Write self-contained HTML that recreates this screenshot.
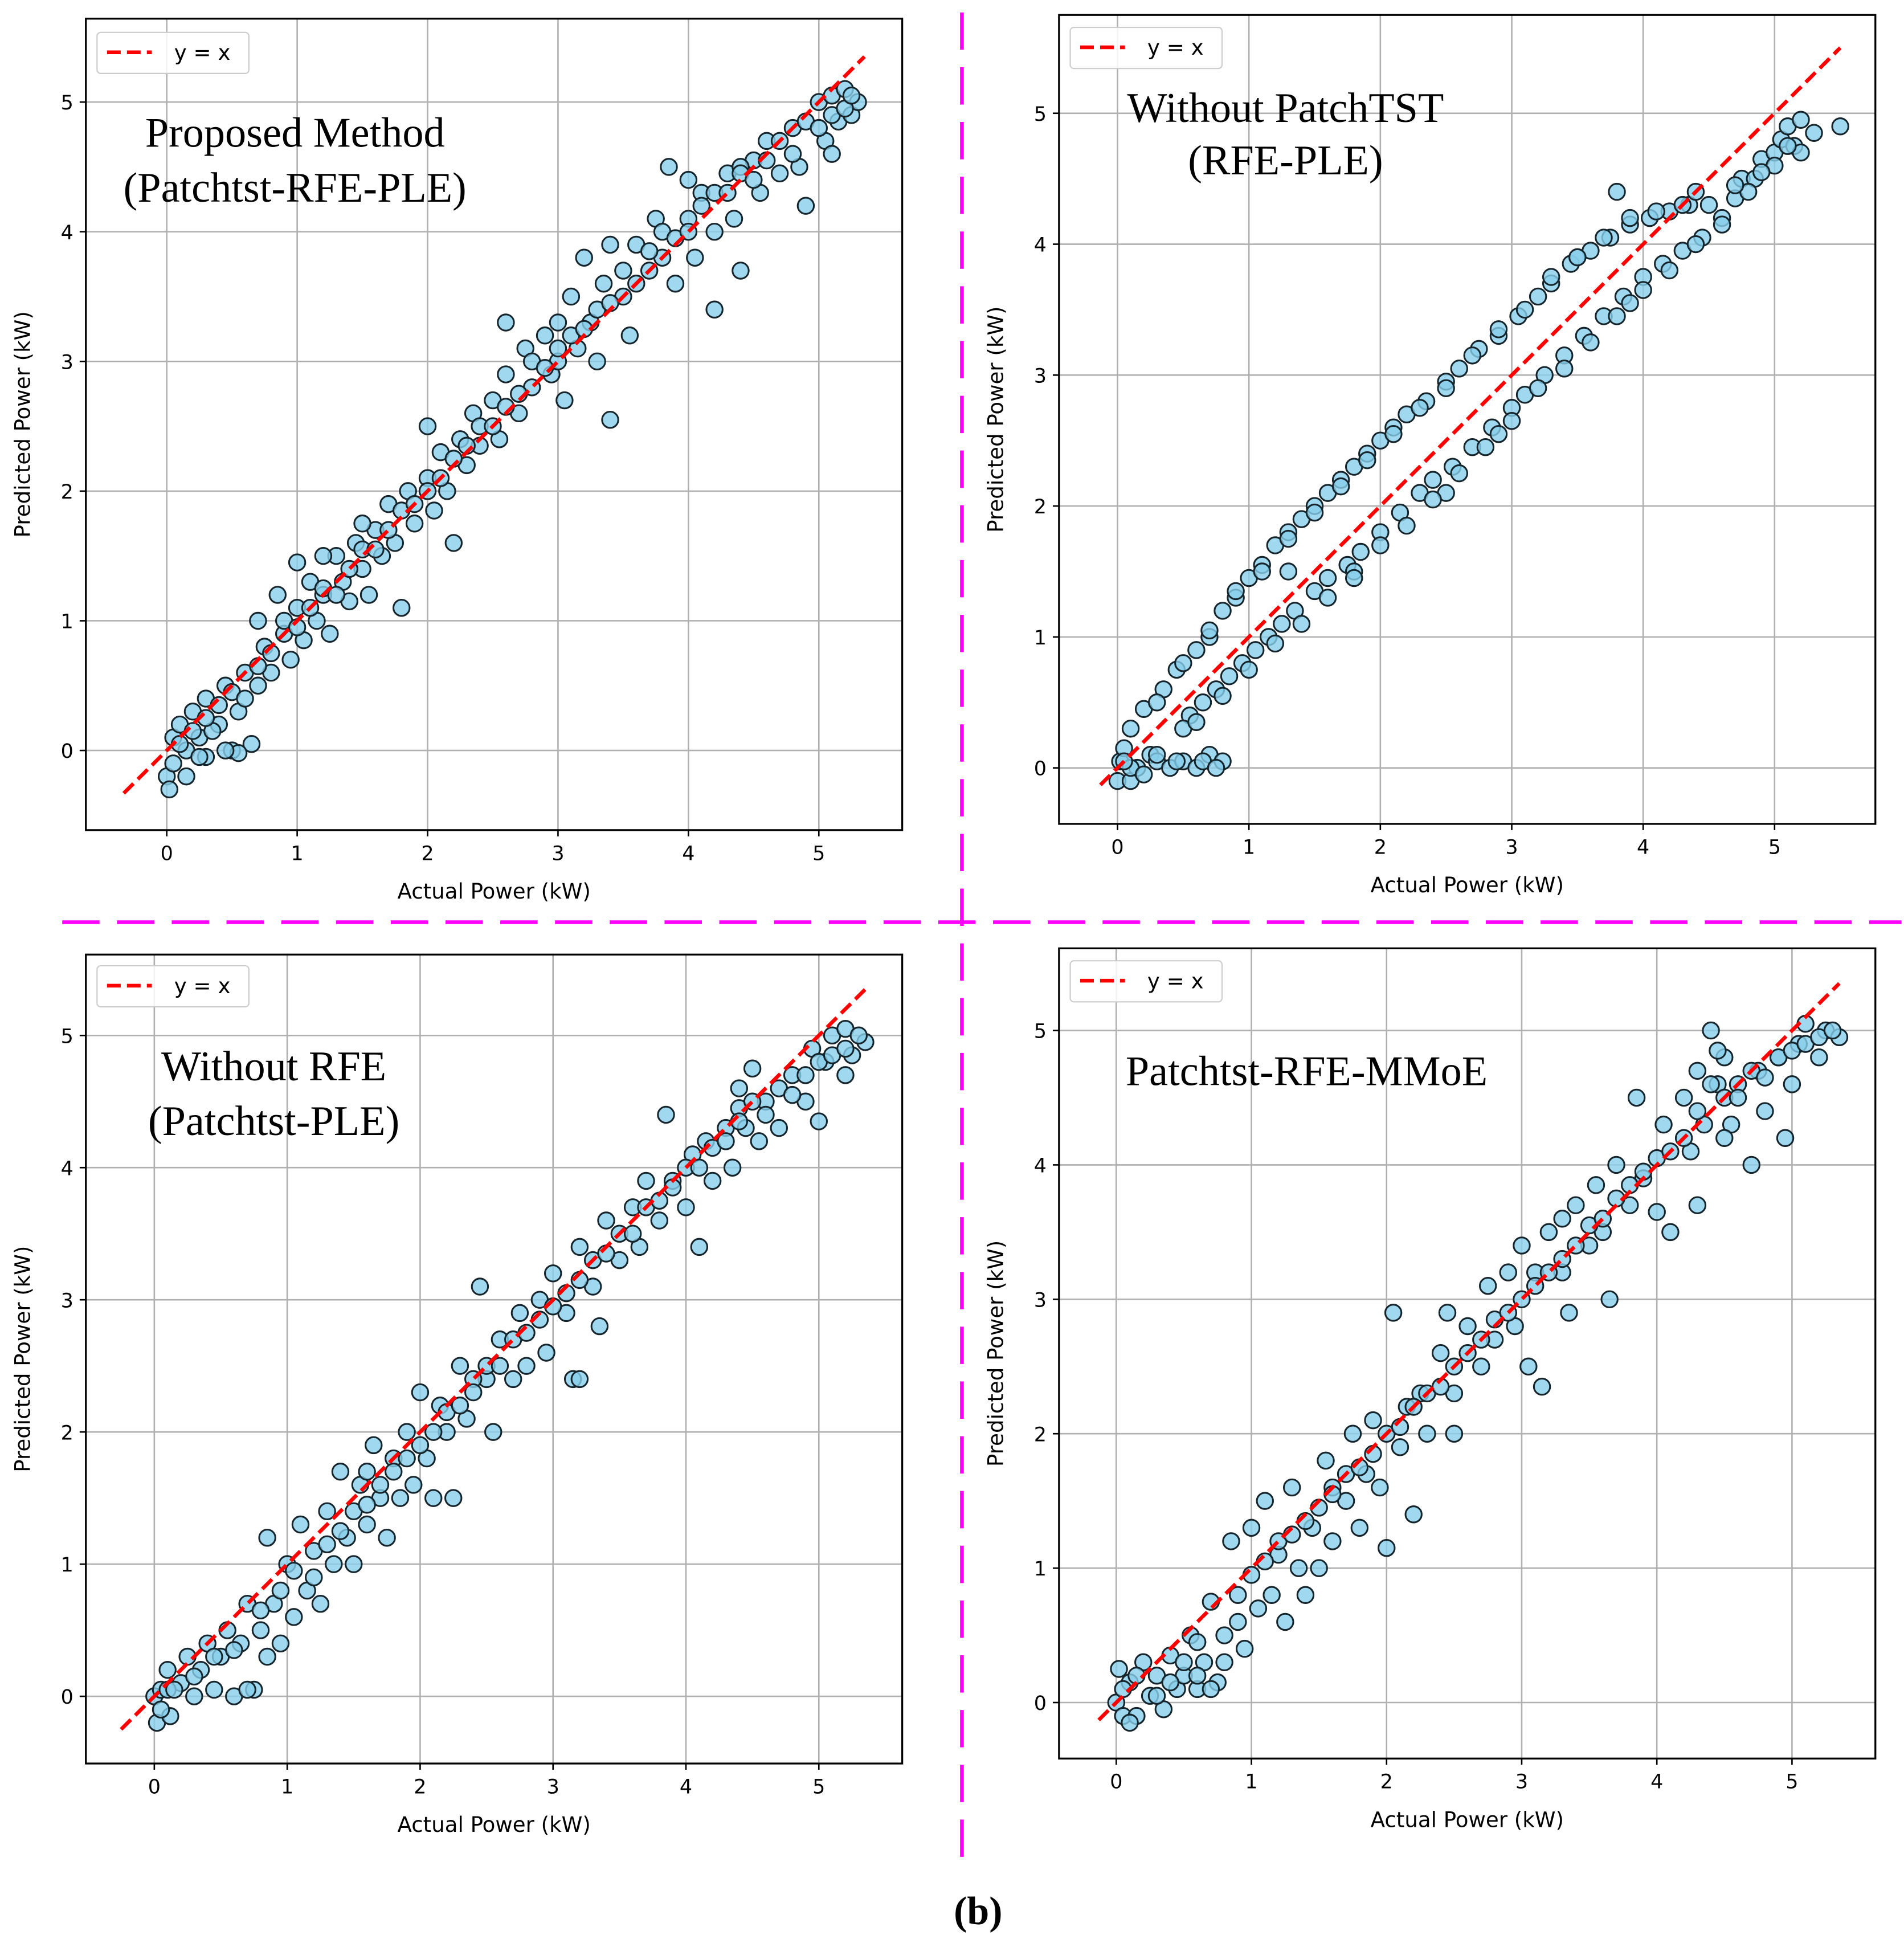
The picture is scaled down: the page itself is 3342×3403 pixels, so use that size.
<!DOCTYPE html>
<html><head><meta charset="utf-8"><style>
html,body{margin:0;padding:0;background:#fff;}
svg{display:block;}
text{font-family:"DejaVu Sans","Liberation Sans",sans-serif;}
.serif{font-family:"Liberation Serif",serif;}
</style></head><body>
<svg id="fig" width="3342" height="3403" viewBox="0 0 1530 1558" preserveAspectRatio="none" xmlns="http://www.w3.org/2000/svg">
<rect width="1530" height="1558" fill="#fff"/>
<line x1="773" y1="10" x2="773" y2="1492" stroke="#ff00ff" stroke-width="3" stroke-dasharray="30,14"/>
<line x1="50" y1="741" x2="1528" y2="741" stroke="#ff00ff" stroke-width="3" stroke-dasharray="30,14"/>
<text class="serif" x="786" y="1546" font-size="32" font-weight="bold" text-anchor="middle">(b)</text>
</svg>
<script>
const xTickLabels=[0,1,2,3,4,5];
const yTickLabels=[0,1,2,3,4,5];
const p1Points=[[0,-0.2],[0.02,-0.3],[0.05,0.1],[0.1,0.2],[0.15,0],[0.2,0.3],[0.25,0.1],[0.3,0.4],[0.3,-0.05],[0.4,0.2],[0.45,0.5],[0.5,0],[0.55,0.3],[0.6,0.6],[0.65,0.05],[0.7,0.5],[0.75,0.8],[0.8,0.6],[0.85,1.2],[0.9,0.9],[0.95,0.7],[1.0,1.1],[1.05,0.85],[1.1,1.3],[1.15,1.0],[1.2,1.2],[1.25,0.9],[1.3,1.5],[1.35,1.3],[1.4,1.15],[1.45,1.6],[1.5,1.4],[1.55,1.2],[1.6,1.7],[1.65,1.5],[1.7,1.9],[1.75,1.6],[1.8,1.1],[1.85,2.0],[1.9,1.75],[2.0,2.1],[2.05,1.85],[2.1,2.3],[2.15,2.0],[2.2,1.6],[2.25,2.4],[2.3,2.2],[2.35,2.6],[2.4,2.35],[2.5,2.7],[2.55,2.4],[2.6,2.9],[2.7,2.6],[2.75,3.1],[2.8,2.8],[2.9,3.2],[2.95,2.9],[3.0,3.3],[3.05,2.7],[3.1,3.5],[3.15,3.1],[3.2,3.8],[3.25,3.3],[3.3,3.0],[3.35,3.6],[3.4,3.9],[3.5,3.5],[3.55,3.2],[3.6,3.9],[3.7,3.7],[3.75,4.1],[3.8,3.8],[3.85,4.5],[3.9,3.6],[4.0,4.1],[4.05,3.8],[4.1,4.3],[4.2,4.0],[4.3,4.45],[4.35,4.1],[4.4,3.7],[4.5,4.55],[4.55,4.3],[4.6,4.7],[4.7,4.45],[4.8,4.8],[4.85,4.5],[4.9,4.2],[5.0,5.0],[5.05,4.7],[5.1,5.05],[5.15,4.85],[5.2,5.1],[5.25,4.9],[5.3,5.0],[2.6,3.3],[1.0,1.45],[3.4,2.55],[4.2,3.4],[0.35,0.15],[0.55,-0.02],[1.2,1.5],[2.0,2.5],[3.0,3.0],[4.0,4.4],[4.4,4.5],[5.1,4.6],[0.7,1.0],[1.5,1.75]];
const p1Extra=[[0.05,-0.1],[0.1,0.05],[0.2,0.15],[0.3,0.25],[0.4,0.35],[0.5,0.45],[0.6,0.4],[0.7,0.65],[0.8,0.75],[0.9,1.0],[1.0,0.95],[1.1,1.1],[1.2,1.25],[1.3,1.2],[1.4,1.4],[1.5,1.55],[1.6,1.55],[1.7,1.7],[1.8,1.85],[1.9,1.9],[2.0,2.0],[2.1,2.1],[2.2,2.25],[2.3,2.35],[2.4,2.5],[2.5,2.5],[2.6,2.65],[2.7,2.75],[2.8,3.0],[2.9,2.95],[3.0,3.1],[3.1,3.2],[3.2,3.25],[3.3,3.4],[3.4,3.45],[3.5,3.7],[3.6,3.6],[3.7,3.85],[3.8,4.0],[3.9,3.95],[4.0,4.0],[4.1,4.2],[4.2,4.3],[4.3,4.3],[4.4,4.45],[4.5,4.4],[4.6,4.55],[4.7,4.7],[4.8,4.6],[4.9,4.85],[5.0,4.8],[5.1,4.9],[5.2,4.95],[5.25,5.05],[0.15,-0.2],[0.45,0.0],[0.25,-0.05]];
const p2Points=[[0,-0.1],[0.02,0.05],[0.05,0.15],[0.1,0.3],[0.1,-0.1],[0.15,0.0],[0.2,0.45],[0.25,0.1],[0.3,0.05],[0.35,0.6],[0.4,0.0],[0.45,0.75],[0.5,0.05],[0.55,0.4],[0.6,0.9],[0.6,0.0],[0.65,0.5],[0.7,1.0],[0.7,0.1],[0.75,0.6],[0.8,1.2],[0.85,0.7],[0.9,1.3],[0.95,0.8],[1.0,1.45],[1.05,0.9],[1.1,1.55],[1.15,1.0],[1.2,1.7],[1.25,1.1],[1.3,1.8],[1.35,1.2],[1.4,1.9],[1.5,1.35],[1.5,2.0],[1.6,2.1],[1.6,1.45],[1.7,2.2],[1.75,1.55],[1.8,2.3],[1.85,1.65],[1.9,2.4],[2.0,1.8],[2.0,2.5],[2.1,2.6],[2.15,1.95],[2.2,2.7],[2.3,2.1],[2.35,2.8],[2.4,2.2],[2.5,2.95],[2.55,2.3],[2.6,3.05],[2.7,2.45],[2.75,3.2],[2.85,2.6],[2.9,3.3],[3.0,2.75],[3.05,3.45],[3.1,2.85],[3.2,3.6],[3.25,3.0],[3.3,3.7],[3.4,3.15],[3.45,3.85],[3.55,3.3],[3.6,3.95],[3.7,3.45],[3.75,4.05],[3.8,4.4],[3.85,3.6],[3.9,4.15],[4.0,3.75],[4.05,4.2],[4.15,3.85],[4.2,4.25],[4.3,3.95],[4.35,4.3],[4.45,4.05],[4.5,4.3],[4.6,4.2],[4.7,4.35],[4.75,4.5],[4.85,4.5],[4.9,4.65],[5.0,4.7],[5.05,4.8],[5.1,4.9],[5.15,4.75],[5.2,4.95],[5.3,4.85],[5.5,4.9],[3.9,3.55],[2.9,2.55],[1.8,1.5],[0.8,0.05],[0.5,0.3],[4.4,4.4],[3.5,3.9],[2.5,2.1],[1.3,1.5],[5.2,4.7]];
const p2Extra=[[0.3,0.5],[0.5,0.8],[0.7,1.05],[0.9,1.35],[1.1,1.5],[1.3,1.75],[1.5,1.95],[1.7,2.15],[1.9,2.35],[2.1,2.55],[2.3,2.75],[2.5,2.9],[2.7,3.15],[2.9,3.35],[3.1,3.5],[3.3,3.75],[3.5,3.9],[3.7,4.05],[3.9,4.2],[4.1,4.25],[4.3,4.3],[0.6,0.35],[0.8,0.55],[1.0,0.75],[1.2,0.95],[1.4,1.1],[1.6,1.3],[1.8,1.45],[2.0,1.7],[2.2,1.85],[2.4,2.05],[2.6,2.25],[2.8,2.45],[3.0,2.65],[3.2,2.9],[3.4,3.05],[3.6,3.25],[3.8,3.45],[4.0,3.65],[4.2,3.8],[4.4,4.0],[4.6,4.15],[4.8,4.4],[5.0,4.6],[5.1,4.75],[4.9,4.55],[4.7,4.45],[0.1,0.0],[0.2,-0.05],[0.3,0.1],[0.45,0.05],[0.65,0.05],[0.75,0.0],[0.05,0.05]];
const p3Points=[[0,0.0],[0.02,-0.2],[0.05,0.05],[0.1,0.2],[0.12,-0.15],[0.2,0.1],[0.25,0.3],[0.3,0.0],[0.35,0.2],[0.4,0.4],[0.45,0.05],[0.5,0.3],[0.55,0.5],[0.6,0.0],[0.65,0.4],[0.7,0.7],[0.75,0.05],[0.8,0.5],[0.85,1.2],[0.9,0.7],[0.95,0.4],[1.0,1.0],[1.05,0.6],[1.1,1.3],[1.15,0.8],[1.2,1.1],[1.25,0.7],[1.3,1.4],[1.35,1.0],[1.4,1.7],[1.45,1.2],[1.5,1.0],[1.55,1.6],[1.6,1.3],[1.65,1.9],[1.7,1.5],[1.75,1.2],[1.8,1.8],[1.85,1.5],[1.9,2.0],[1.95,1.6],[2.0,2.3],[2.05,1.8],[2.1,1.5],[2.15,2.2],[2.2,2.0],[2.25,1.5],[2.3,2.5],[2.35,2.1],[2.45,3.1],[2.5,2.4],[2.55,2.0],[2.6,2.7],[2.7,2.4],[2.75,2.9],[2.8,2.5],[2.9,3.0],[2.95,2.6],[3.0,3.2],[3.1,2.9],[3.15,2.4],[3.2,3.4],[3.3,3.1],[3.35,2.8],[3.4,3.6],[3.5,3.3],[3.6,3.7],[3.65,3.4],[3.7,3.9],[3.8,3.6],[3.85,4.4],[3.9,3.9],[4.0,3.7],[4.05,4.1],[4.1,3.4],[4.15,4.2],[4.2,3.9],[4.3,4.3],[4.35,4.0],[4.4,4.6],[4.45,4.3],[4.5,4.75],[4.55,4.2],[4.6,4.5],[4.7,4.3],[4.8,4.7],[4.9,4.5],[4.95,4.9],[5.0,4.35],[5.05,4.8],[5.1,5.0],[5.2,5.05],[5.25,4.85],[5.35,4.95],[3.2,2.4],[1.6,1.7],[2.4,2.4],[0.85,0.3],[0.1,0.05],[4.4,4.45],[5.2,4.7]];
const p3Extra=[[0.05,-0.1],[0.15,0.05],[0.3,0.15],[0.45,0.3],[0.6,0.35],[0.7,0.05],[0.8,0.65],[0.95,0.8],[1.05,0.95],[1.2,0.9],[1.3,1.15],[1.4,1.25],[1.5,1.4],[1.6,1.45],[1.7,1.6],[1.8,1.7],[1.9,1.8],[2.0,1.9],[2.1,2.0],[2.2,2.15],[2.3,2.2],[2.4,2.3],[2.5,2.5],[2.6,2.5],[2.7,2.7],[2.8,2.75],[2.9,2.85],[3.0,2.95],[3.1,3.05],[3.2,3.15],[3.3,3.3],[3.4,3.35],[3.5,3.5],[3.6,3.5],[3.7,3.7],[3.8,3.75],[3.9,3.85],[4.0,4.0],[4.1,4.0],[4.2,4.15],[4.3,4.2],[4.4,4.35],[4.5,4.5],[4.6,4.4],[4.7,4.6],[4.8,4.55],[4.9,4.7],[5.0,4.8],[5.1,4.85],[5.2,4.9],[5.3,5.0]];
const p4Points=[[0,0.0],[0.02,0.25],[0.05,-0.1],[0.1,0.15],[0.15,-0.1],[0.2,0.3],[0.25,0.05],[0.3,0.2],[0.35,-0.05],[0.4,0.35],[0.45,0.1],[0.5,0.2],[0.55,0.5],[0.6,0.1],[0.65,0.3],[0.7,0.75],[0.75,0.15],[0.8,0.5],[0.85,1.2],[0.9,0.6],[0.95,0.4],[1.0,1.3],[1.05,0.7],[1.1,1.5],[1.15,0.8],[1.2,1.1],[1.25,0.6],[1.3,1.6],[1.35,1.0],[1.4,0.8],[1.45,1.3],[1.5,1.0],[1.55,1.8],[1.6,1.2],[1.7,1.5],[1.75,2.0],[1.8,1.3],[1.85,1.7],[1.9,2.1],[1.95,1.6],[2.0,1.15],[2.05,2.9],[2.1,1.9],[2.15,2.2],[2.2,1.4],[2.25,2.3],[2.3,2.0],[2.4,2.6],[2.45,2.9],[2.5,2.3],[2.6,2.8],[2.7,2.5],[2.75,3.1],[2.8,2.7],[2.9,3.2],[2.95,2.8],[3.0,3.4],[3.05,2.5],[3.1,3.2],[3.15,2.35],[3.2,3.5],[3.3,3.2],[3.35,2.9],[3.4,3.7],[3.5,3.4],[3.55,3.85],[3.6,3.5],[3.65,3.0],[3.7,4.0],[3.8,3.7],[3.85,4.5],[3.9,3.9],[4.0,3.65],[4.05,4.3],[4.1,3.5],[4.2,4.5],[4.25,4.1],[4.3,4.7],[4.35,4.3],[4.4,5.0],[4.45,4.6],[4.5,4.8],[4.55,4.3],[4.6,4.6],[4.7,4.0],[4.75,4.7],[4.8,4.4],[4.9,4.8],[4.95,4.2],[5.0,4.6],[5.05,4.9],[5.1,5.05],[5.2,4.8],[5.25,5.0],[5.35,4.95],[4.3,3.7],[1.6,1.6],[2.5,2.0],[0.6,0.45],[0.1,-0.15],[3.3,3.6],[4.5,4.2]];
const p4Extra=[[0.05,0.1],[0.15,0.2],[0.3,0.05],[0.4,0.15],[0.5,0.3],[0.6,0.2],[0.7,0.1],[0.8,0.3],[0.9,0.8],[1.0,0.95],[1.1,1.05],[1.2,1.2],[1.3,1.25],[1.4,1.35],[1.5,1.45],[1.6,1.55],[1.7,1.7],[1.8,1.75],[1.9,1.85],[2.0,2.0],[2.1,2.05],[2.2,2.2],[2.3,2.3],[2.4,2.35],[2.5,2.5],[2.6,2.6],[2.7,2.7],[2.8,2.85],[2.9,2.9],[3.0,3.0],[3.1,3.1],[3.2,3.2],[3.3,3.3],[3.4,3.4],[3.5,3.55],[3.6,3.6],[3.7,3.75],[3.8,3.85],[3.9,3.95],[4.0,4.05],[4.1,4.1],[4.2,4.2],[4.3,4.4],[4.4,4.6],[4.45,4.85],[4.5,4.5],[4.6,4.5],[4.7,4.7],[4.8,4.65],[4.9,4.8],[5.0,4.85],[5.1,4.9],[5.2,4.95],[5.3,5.0]];

const panels=[
 {name:'proposed-method',pts:p1Points.concat(p1Extra),box:[69,15,725,667],x0:134,xs:104.8,y0:603,ys:104.2,line:[-0.33,5.35],title:['Proposed Method','(Patchtst-RFE-PLE)'],tx:237,ty:[118,162],leg:[78,26]},
 {name:'without-patchtst',pts:p2Points.concat(p2Extra),box:[851,12,1507,662],x0:898,xs:105.6,y0:617,ys:105.2,line:[-0.13,5.5],title:['Without PatchTST','(RFE-PLE)'],tx:1033,ty:[98,140],leg:[860,22]},
 {name:'without-rfe',pts:p3Points.concat(p3Extra),box:[69,767,725,1417],x0:124,xs:106.8,y0:1363,ys:106.2,line:[-0.25,5.35],title:['Without RFE','(Patchtst-PLE)'],tx:220,ty:[868,912],leg:[78,776]},
 {name:'patchtst-rfe-mmoe',pts:p4Points.concat(p4Extra),box:[851,762,1507,1413],x0:897,xs:108.6,y0:1368,ys:108,line:[-0.13,5.35],title:['Patchtst-RFE-MMoE'],tx:1050,ty:[872],leg:[860,772]}
];
const svg=document.getElementById('fig');
const NS='http://www.w3.org/2000/svg';
function mk(tag,attrs,parent){const e=document.createElementNS(NS,tag);for(const k in attrs)e.setAttribute(k,attrs[k]);(parent||svg).appendChild(e);return e;}
panels.forEach(p=>{
 const [L,T,R,B]=p.box;
 const sx=v=>p.x0+v*p.xs, sy=v=>p.y0-v*p.ys;
 const g=mk('g',{});
 
 
 const cp='clip-'+p.name;
 const defs=mk('defs',{},g);const c=mk('clipPath',{id:cp},defs);mk('rect',{x:L,y:T,width:R-L,height:B-T},c);
 xTickLabels.forEach(v=>{
  const gl=mk('line',{x1:sx(v),x2:sx(v),y1:T,y2:B,stroke:'#b0b0b0','stroke-width':1.2},g);
  
  
  mk('line',{x1:sx(v),x2:sx(v),y1:B,y2:B+5,stroke:'#000','stroke-width':1.2},g);
  const t=mk('text',{x:sx(v),y:B+24,'font-size':16,'text-anchor':'middle'},g);t.textContent=v;
  
  
 });
 yTickLabels.forEach(v=>{
  const gl=mk('line',{x1:L,x2:R,y1:sy(v),y2:sy(v),stroke:'#b0b0b0','stroke-width':1.2},g);
  
  
  mk('line',{x1:L-5,x2:L,y1:sy(v),y2:sy(v),stroke:'#000','stroke-width':1.2},g);
  const t=mk('text',{x:L-10,y:sy(v)+6,'font-size':16,'text-anchor':'end'},g);t.textContent=v;
  
  
 });
 const pg=mk('g',{'clip-path':'url(#'+cp+')'},g);
 p.pts.forEach(d=>{
  const ci=mk('circle',{cx:sx(d[0]),cy:sy(d[1]),r:6.5,fill:'#87ceeb','fill-opacity':0.8,stroke:'#15252b','stroke-width':1.4},pg);
  
  
 });
 const rl=mk('line',{x1:sx(p.line[0]),y1:sy(p.line[0]),x2:sx(p.line[1]),y2:sy(p.line[1]),stroke:'#ff0000','stroke-width':3,'stroke-dasharray':'11,5'},g);
 
 
 const fr=mk('rect',{x:L,y:T,width:R-L,height:B-T,fill:'none',stroke:'#000','stroke-width':1.5},g);
 
 
 const xl=mk('text',{x:(L+R)/2,y:B+55,'font-size':17,'text-anchor':'middle'},g);xl.textContent='Actual Power (kW)';
 
 
 const cy=(T+B)/2;
 const yl=mk('text',{x:L-45,y:cy,'font-size':17,'text-anchor':'middle',transform:'rotate(-90 '+(L-45)+' '+cy+')'},g);yl.textContent='Predicted Power (kW)';
 
 
 const [lx,ly]=p.leg;
 const lg=mk('g',{},g);
 
 
 mk('rect',{x:lx,y:ly,width:122,height:33,rx:3,fill:'#fff','fill-opacity':0.85,stroke:'#ccc','stroke-width':1},lg);
 mk('line',{x1:lx+8,x2:lx+44,y1:ly+16,y2:ly+16,stroke:'#ff0000','stroke-width':3,'stroke-dasharray':'11,5'},lg);
 const lt=mk('text',{x:lx+62,y:ly+22,'font-size':17},lg);lt.textContent='y = x';
 
 
 p.title.forEach((s,i)=>{
  const t=mk('text',{x:p.tx,y:p.ty[i],'font-size':34,'text-anchor':'middle',class:'serif'},g);t.textContent=s;
  
  
 });
});
</script>
</body></html>
